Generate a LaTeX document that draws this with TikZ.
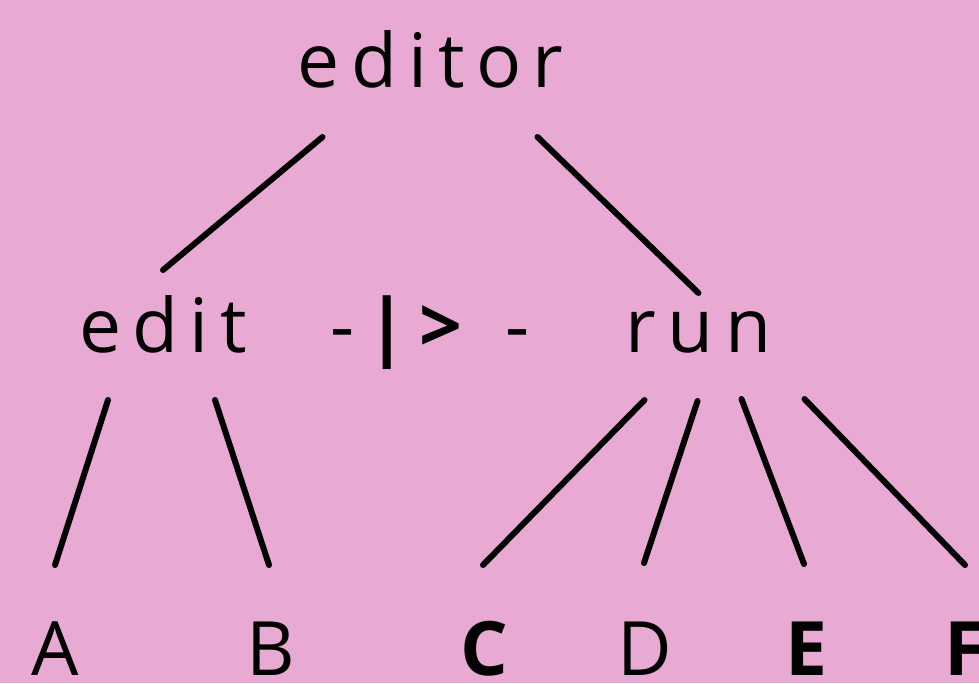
\documentclass[tikz,border=0pt]{standalone}
\usepackage{fontspec}
\setmainfont{Open Sans}[LetterSpace=15]
\newfontfamily\plainfont{Open Sans}
\definecolor{bg}{HTML}{E8A9D3}
\tikzset{
  lbl/.style={anchor=base,inner sep=0pt,outer sep=0pt,font=\fontsize{75}{80}\selectfont},
  sym/.style={anchor=base,inner sep=0pt,outer sep=0pt,font=\fontsize{75}{80}\plainfont},
  leaf/.style={sym,text depth=0pt},
  edge/.style={line width=6pt,line cap=round}
}
\begin{document}
\begin{tikzpicture}[x=1pt,y=-1pt]
\fill[bg] (0,0) rectangle (979,683);
\useasboundingbox (0,0) rectangle (979,683);
\node[lbl] (editor) at (430.5,87) {editor};
\node[lbl] (edit) at (163,352) {edit};
\node[lbl] (run) at (698.5,352) {run};
\node[sym] (sepa) at (343,352) {-};
\node[sym] (sepb) at (387.5,352) {\bfseries|};
\node[sym] (sepc) at (441,352) {\bfseries>};
\node[sym] (sepd) at (517.5,352) {-};
\node[leaf] (A) at (55,675) {A};
\node[leaf] (B) at (271,675) {B};
\node[leaf] (C) at (484,675) {\bfseries C};
\node[leaf] (D) at (645,675) {D};
\node[leaf] (E) at (806,675) {\bfseries E};
\node[leaf,anchor=base west] (F) at (944,675) {\bfseries F};
\draw[edge] ([shift={(-108,50)}]editor.base) -- ([shift={(0,-82)}]edit.base);
\draw[edge] ([shift={(107,50)}]editor.base) -- ([shift={(0,-59)}]run.base);
\draw[edge] ([shift={(-55,48)}]edit.base) -- ([shift={(0,-110)}]A.base);
\draw[edge] ([shift={(52,48)}]edit.base) -- ([shift={(-2,-110)}]B.base);
\draw[edge] ([shift={(-54,48)}]run.base) -- ([shift={(-1,-110)}]C.base);
\draw[edge] ([shift={(-1,49)}]run.base) -- ([shift={(-1,-112)}]D.base);
\draw[edge] ([shift={(43,47)}]run.base) -- ([shift={(-2,-111)}]E.base);
\draw[edge] ([shift={(106,47)}]run.base) -- ([shift={(21,-110)}]F.base west);
\end{tikzpicture}
\end{document}
